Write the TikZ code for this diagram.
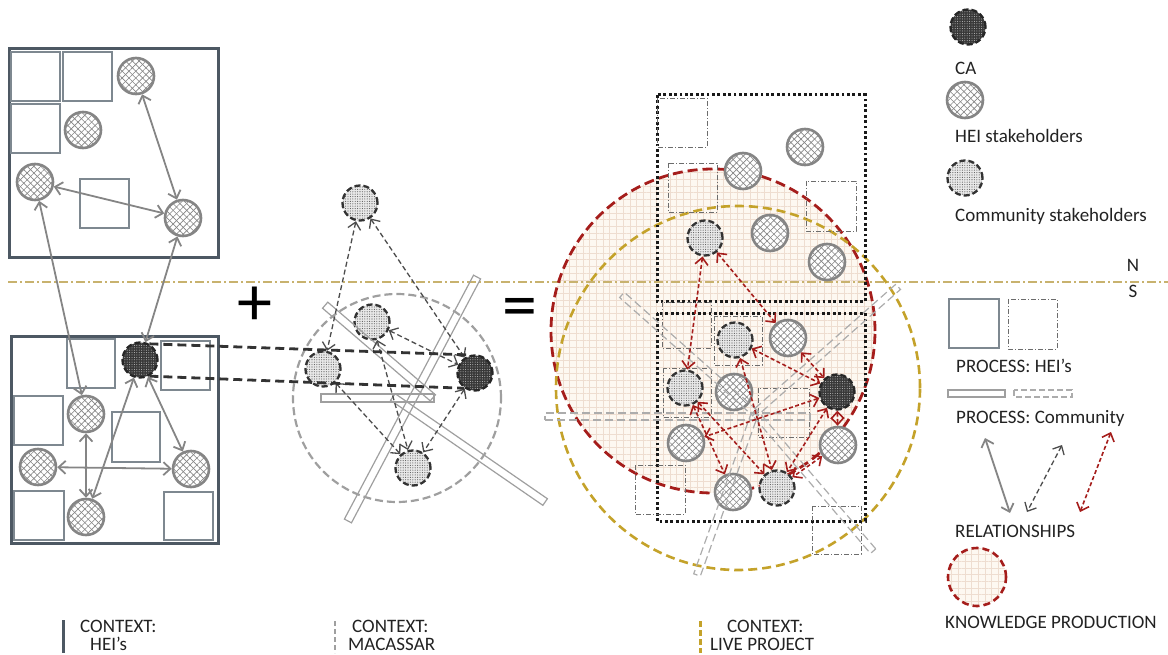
\documentclass[tikz,border=0pt]{standalone}
\usepackage{fontspec}
\setmainfont{Carlito}
\usetikzlibrary{arrows.meta,patterns.meta,calc}
\definecolor{slate}{HTML}{4D5863}
\definecolor{boxgray}{HTML}{7E8890}
\definecolor{heigray}{HTML}{858585}
\definecolor{darkred}{HTML}{A51D1B}
\definecolor{gold}{HTML}{C4A22A}
\definecolor{khaki}{HTML}{C8B26E}
\definecolor{beige}{HTML}{FDF8F1}
\definecolor{gridc}{HTML}{EEDDD0}
\definecolor{txt}{HTML}{222222}
\tikzset{
  >={Straight Barb[length=7pt,width=13pt]},
  hei/.style={circle, draw=heigray, line width=2.6pt, minimum size=36pt, inner sep=0pt,
    preaction={fill=white},
    preaction={pattern={Lines[angle=45,distance=4.8pt,line width=0.65pt]}, pattern color=heigray},
    preaction={pattern={Lines[angle=-45,distance=4.8pt,line width=0.65pt]}, pattern color=heigray}},
  comm/.style={circle, draw=black!80, line width=2.3pt, dash pattern=on 6pt off 3pt, minimum size=35pt, inner sep=0pt,
    preaction={fill=gray!18},
    preaction={pattern={Dots[distance=2.4pt,radius=0.55pt]}, pattern color=gray!70!black}},
  cadot/.style={circle, draw=black!85, line width=2.3pt, dash pattern=on 6pt off 3pt, minimum size=35pt, inner sep=0pt,
    preaction={fill=black!78},
    preaction={pattern={Dots[distance=2.4pt,radius=0.5pt]}, pattern color=gray!45}},
  outerbox/.style={draw=slate, line width=3pt},
  hsq/.style={draw=boxgray, line width=1.1pt},
  csq/.style={draw=gray!85!black, line width=0.9pt, dash pattern=on 5pt off 2pt on 1pt off 2pt},
  mbar/.style={rectangle, draw=gray!75, line width=1.2pt, inner sep=0pt, minimum height=8pt},
  rbar/.style={rectangle, draw=gray!65, line width=1.2pt, dash pattern=on 8pt off 4pt, inner sep=0pt, minimum height=7pt},
  heiarrow/.style={<->, draw=heigray, line width=1.8pt},
  commarrow/.style={<->, draw=black!70, line width=1.3pt, dash pattern=on 5pt off 3pt},
  redarrow/.style={<->, draw=darkred, line width=1.6pt, dash pattern=on 4pt off 2.5pt},
  cadash/.style={draw=black!80, line width=2.8pt, dash pattern=on 9pt off 5pt},
  dotrect/.style={draw=black!90, line width=3pt, dash pattern=on 2.8pt off 2.6pt},
  kpfill/.style={preaction={fill=beige}, pattern={Hatch[distance=6.7pt,line width=0.55pt]}, pattern color=gridc},
  lbl/.style={font=\fontsize{19}{21}\selectfont, text=txt, inner sep=0pt, anchor=base west}
}
\begin{document}
\begin{tikzpicture}[x=1pt,y=-1pt]
\useasboundingbox (0,0) rectangle (1168,655);
% ---------- right panel background
\path[kpfill] (713,331) circle (162pt);
% N/S line
\draw[khaki, line width=1.1pt, dash pattern=on 9pt off 3pt on 2pt off 3pt] (8,282) -- (1168,282);
\draw[darkred, line width=2.8pt, dash pattern=on 10pt off 5pt] (713,331) circle (162pt);
\draw[gold, line width=2.6pt, dash pattern=on 9pt off 5pt] (738,388) circle (182pt);
\draw[dotrect] (657,95) rectangle (865,302);
\draw[dotrect] (657,313) rectangle (865,521);
\draw[csq] (657,98) rectangle (707,147);
\draw[csq] (668,163) rectangle (717,212);
\draw[csq] (806,181) rectangle (856,231);
\draw[csq] (662,302) rectangle (711,348);
\draw[csq] (714,316) rectangle (762,365);
\draw[csq] (663,368) rectangle (711,417);
\draw[csq] (758,388) rectangle (809,437);
\draw[csq] (635,465) rectangle (685,514);
\draw[csq] (812,506) rectangle (861,554);
% ---------- left top box
\draw[outerbox] (9,49) rectangle (218,258);
\draw[hsq] (11,52) rectangle (60,101);
\draw[hsq] (63,52) rectangle (112,101);
\draw[hsq] (11,104) rectangle (60,153);
\draw[hsq] (80,179) rectangle (129,228);
\node[hei] (t1) at (136,76) {};
\node[hei] (t2) at (83,130) {};
\node[hei] (t3) at (35,182) {};
\node[hei] (t4) at (183,218) {};
% ---------- left bottom box
\draw[outerbox] (11,336) rectangle (218,543);
\draw[hsq] (67,339) rectangle (115,388);
\draw[hsq] (161,341) rectangle (210,390);
\draw[hsq] (14,396) rectangle (63,445);
\draw[hsq] (112,412) rectangle (160,462);
\draw[hsq] (14,491) rectangle (64,540);
\draw[hsq] (164,492) rectangle (213,540);
\node[cadot] (lca) at (140,360) {};
\node[hei] (ba) at (86,414) {};
\node[hei] (bb) at (38,467) {};
\node[hei] (bc) at (191,469) {};
\node[hei] (bd) at (86,517) {};
\draw[heiarrow] (t1) -- (t4);
\draw[heiarrow] (t3) -- (t4);
\draw[heiarrow] (t3) -- (ba);
\draw[heiarrow] (t4) -- (lca);
\draw[heiarrow] (ba) -- (bd);
\draw[heiarrow] (bb) -- (bc);
\draw[heiarrow] (lca) -- (bc);
\draw[heiarrow] (lca) -- (bd);
% ---------- middle
\node[font=\fontsize{70}{70}\selectfont, text=black, inner sep=0pt] (plus) at (255,306) {+};
\node[font=\fontsize{70}{70}\selectfont, text=black, inner sep=0pt] (equals) at (520,313) {=};
\draw[gray!75, line width=2.2pt, dash pattern=on 8pt off 4pt] (397,398) circle (104pt);
\node[comm] (mtop) at (360,203) {};
\node[comm] (m1) at (372,322) {};
\node[comm] (m2) at (323,369) {};
\node[cadot] (mca) at (475,373) {};
\node[comm] (m3) at (413,468) {};
\draw[mbar] (321,394) rectangle (434,402);
\node[mbar, minimum width=142pt, rotate=-40.7] (barA) at (379,351.5) {};
\node[mbar, minimum width=185pt, rotate=-34.6] (barB) at (469,449.5) {};
\node[mbar, minimum width=276pt, rotate=62.1] (barC) at (412.5,399) {};
\draw[commarrow] (mtop) -- (m2);
\draw[commarrow] (mtop) -- (mca);
\draw[commarrow] (m1) -- (mca);
\draw[commarrow] (m1) -- (m3);
\draw[commarrow] (m2) -- (m3);
\draw[commarrow] (mca) -- (m3);
\draw[cadash] (lca.60) -- (mca.105);
\draw[cadash] (lca.-60) -- (mca.-125);
% ---------- right panel nodes
\node[hei] (uh1) at (805,147) {};
\node[hei] (uh2) at (743,171) {};
\node[comm] (uc) at (705,238) {};
\node[hei] (uh3) at (770,233) {};
\node[hei] (uh4) at (827,262) {};
\node[comm] (c1) at (735,340) {};
\node[hei] (h1) at (788,338) {};
\node[comm] (c2) at (685,388) {};
\node[hei] (h2) at (734,392) {};
\node[cadot] (rca) at (837,392) {};
\node[hei] (h3) at (686,443) {};
\node[hei] (h4) at (838,445) {};
\node[hei] (h5) at (733,492) {};
\node[comm] (c3) at (777,488) {};
\node[rbar, minimum width=265pt] (rb1) at (677.5,416.5) {};
\node[rbar, minimum width=178pt, rotate=-41.6] (rb2) at (688.5,354) {};
\node[rbar, minimum width=182pt, rotate=-49.5] (rb3) at (814,482) {};
\node[rbar, minimum width=172pt, rotate=70.3] (rb4) at (726,494) {};
\node[rbar, minimum width=191pt, rotate=41.4] (rb5) at (826.5,350) {};
\draw[redarrow] (uc) -- (c2);
\draw[redarrow] (uc) -- (h1);
\draw[redarrow] (c1) -- (rca);
\draw[redarrow] (h1) -- (rca);
\draw[redarrow] (c1) -- (c3);
\draw[redarrow] (c2) -- (h5);
\draw[redarrow] (c2) -- (c3);
\draw[redarrow] (rca) -- (h3);
\draw[redarrow] (rca) -- (c3);
\draw[redarrow] (rca) -- (h4);
\draw[redarrow] (h4) -- (c3);
% ---------- legend
\node[cadot] (lgca) at (968,27) {};
\node[lbl] (tca) at (955,75) {CA};
\node[hei] (lghei) at (965,100) {};
\node[lbl] (thei) at (955,143) {HEI stakeholders};
\node[comm] (lgcom) at (965,178) {};
\node[lbl] (tcom) at (955,222) {Community stakeholders};
\node[font=\fontsize{19}{21}\selectfont, text=txt, inner sep=0pt, anchor=base] (tn) at (1133,272) {N};
\node[font=\fontsize{19}{21}\selectfont, text=txt, inner sep=0pt, anchor=base] (ts) at (1133,298) {S};
\draw[hsq] (949,299) rectangle (999,348);
\draw[csq] (1008,299) rectangle (1057,349);
\node[lbl] (tph) at (956,372) {PROCESS: HEI’s};
\draw[draw=gray!75, line width=1.2pt] (948,390) rectangle (1005,397);
\draw[draw=gray!65, line width=1.2pt, dash pattern=on 6pt off 3pt] (1014,390) rectangle (1072,397);
\node[lbl] (tpc) at (956,423) {PROCESS: Community};
\coordinate (la1) at (985,438);
\coordinate (la2) at (1010,513);
\coordinate (lb1) at (1062,445);
\coordinate (lb2) at (1027,512);
\coordinate (lc1) at (1111,432);
\coordinate (lc2) at (1080,512);
\draw[heiarrow] (la1) -- (la2);
\draw[commarrow] (lb1) -- (lb2);
\draw[redarrow] (lc1) -- (lc2);
\node[lbl] (trel) at (955,537) {RELATIONSHIPS};
\path[kpfill] (977,577) circle (29pt);
\draw[darkred, line width=2.6pt, dash pattern=on 7pt off 4pt] (977,577) circle (29pt);
\node[lbl] (tkp) at (945,628) {KNOWLEDGE PRODUCTION};
% ---------- bottom context labels
\draw[slate, line width=3pt] (63,620) -- (63,653);
\node[lbl] (tc1) at (80,632) {CONTEXT:};
\node[lbl] (tc1b) at (90,650) {HEI’s};
\draw[gray!75, line width=2pt, dash pattern=on 5pt off 3pt] (335,621) -- (335,653);
\node[lbl] (tc2) at (352,632) {CONTEXT:};
\node[lbl] (tc2b) at (348,650) {MACASSAR};
\draw[gold, line width=3pt, dash pattern=on 6pt off 3pt] (700,621) -- (700,653);
\node[lbl] (tc3) at (727,632) {CONTEXT:};
\node[lbl] (tc3b) at (710,650) {LIVE PROJECT};
\end{tikzpicture}
\end{document}
